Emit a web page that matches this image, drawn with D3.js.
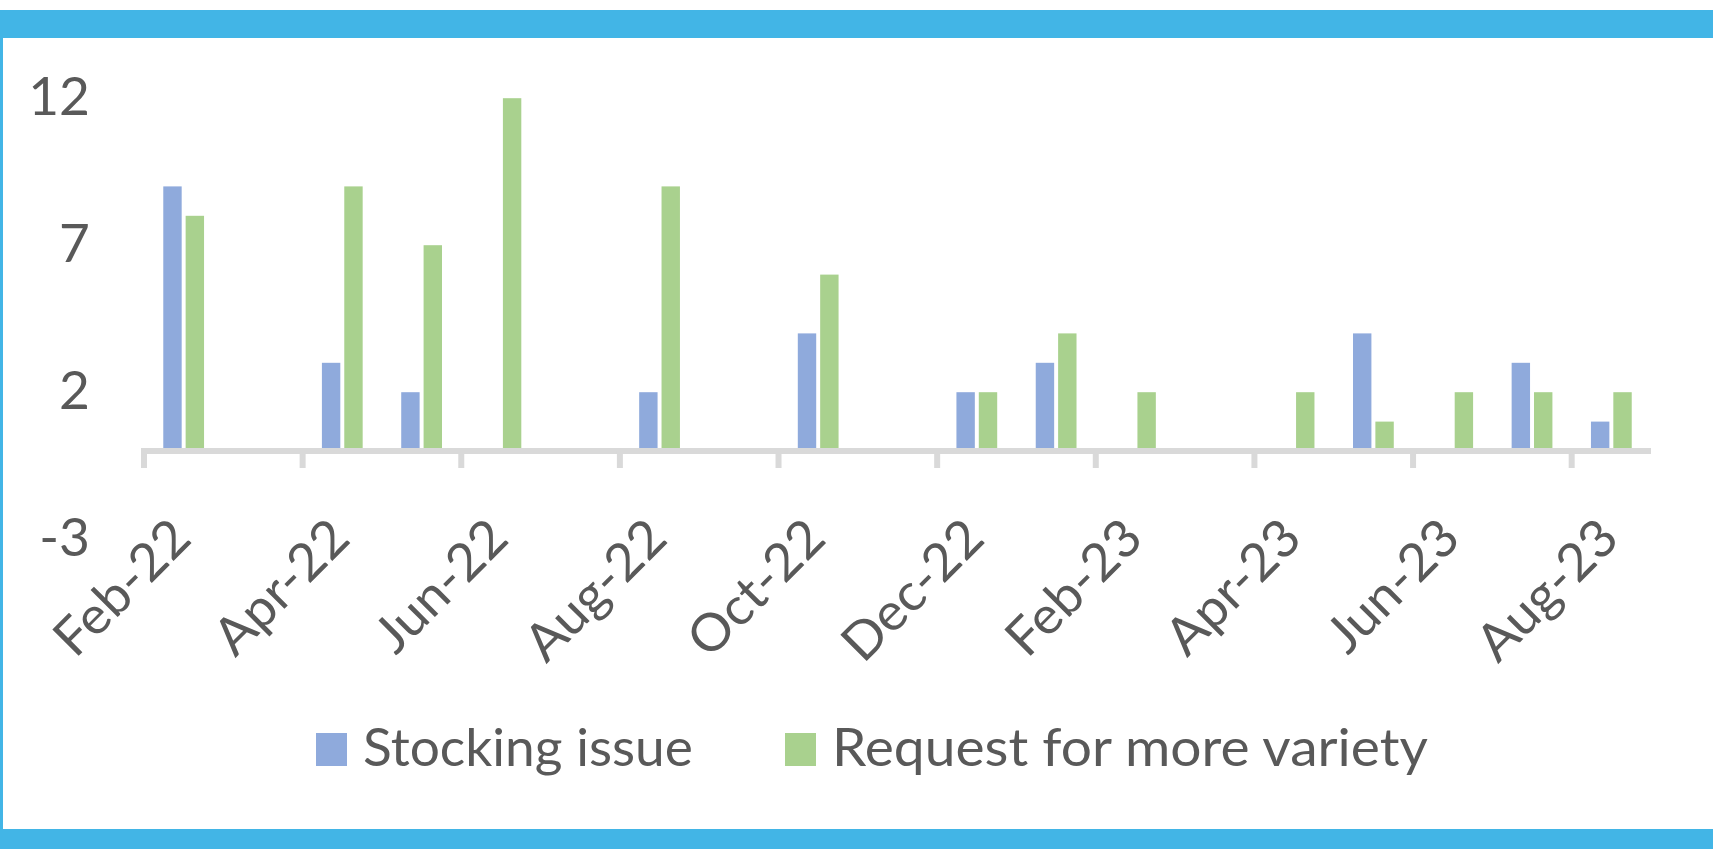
<!DOCTYPE html>
<html>
<head>
<meta charset="utf-8">
<script src="https://cdn.jsdelivr.net/npm/d3@7"></script>
<style>
  html, body { margin: 0; padding: 0; background: #ffffff; }
  svg { display: block; }
  text { font-family: Lato, "Open Sans", sans-serif; fill: #595959; }
</style>
</head>
<body>
<svg id="chart" width="1713" height="849"></svg>
<script>
// ---- data ----
const months = ["Feb-22","Mar-22","Apr-22","May-22","Jun-22","Jul-22","Aug-22","Sep-22","Oct-22","Nov-22","Dec-22",
                "Jan-23","Feb-23","Mar-23","Apr-23","May-23","Jun-23","Jul-23","Aug-23"];
const stockingIssue = [9,0,3,2,0,0,2,0,4,0,2,3,0,0,0,4,0,3,1];
const moreVariety   = [8,0,9,7,12,0,9,0,6,0,2,4,2,0,2,1,2,2,2];
const xTickLabels = ["Feb-22","Apr-22","Jun-22","Aug-22","Oct-22","Dec-22","Feb-23","Apr-23","Jun-23","Aug-23"];
const yTickValues = [-3, 2, 7, 12];
const seriesNames = ["Stocking issue", "Request for more variety"];
const seriesColors = ["#8faadc", "#a9d18e"];

// ---- layout ----
const W = 1713, H = 849;
const svg = d3.select("#chart");
const FONT = 52;

// frame
svg.append("rect").attr("x",0).attr("y",0).attr("width",W).attr("height",H).attr("fill","#ffffff");
svg.append("rect").attr("x",0).attr("y",10).attr("width",W).attr("height",28).attr("fill","#42b5e6");
svg.append("rect").attr("x",0).attr("y",10).attr("width",3).attr("height",H-10).attr("fill","#42b5e6");
svg.append("rect").attr("x",0).attr("y",829).attr("width",W).attr("height",20).attr("fill","#42b5e6");

// measure horizontal squeeze to approximate Calibri widths
const probe = svg.append("text").attr("font-size", FONT).text("Stocking issue");
const sx = 330 / probe.node().getComputedTextLength();
probe.remove();

const x = d3.scaleBand().domain(months).range([144, 1651]).padding(0);
const y = d3.scaleLinear().domain([-3, 12]).range([539.2, 98.2]);
const bw = x.bandwidth();
const barW = bw * 0.232;
const gap = bw * 0.05;

// bars
const series = [stockingIssue, moreVariety];
series.forEach((vals, si) => {
  svg.append("g").selectAll("rect")
    .data(months.map((m, i) => ({m, v: vals[i]})))
    .join("rect")
    .attr("x", d => x(d.m) + bw/2 + (si === 0 ? -gap/2 - barW : gap/2))
    .attr("width", barW)
    .attr("y", d => y(d.v))
    .attr("height", d => y(0) - y(d.v))
    .attr("fill", seriesColors[si]);
});

// x axis line and ticks
svg.append("line")
  .attr("x1", x(months[0]) - 3).attr("x2", x(months[months.length-1]) + bw)
  .attr("y1", y(0)).attr("y2", y(0))
  .attr("stroke", "#d9d9d9").attr("stroke-width", 6);
svg.append("g").selectAll("line")
  .data(xTickLabels)
  .join("line")
  .attr("x1", d => x(d)).attr("x2", d => x(d))
  .attr("y1", y(0)).attr("y2", y(0) + 17)
  .attr("stroke", "#d9d9d9").attr("stroke-width", 6);

// x labels (rotated)
svg.append("g").selectAll("text")
  .data(xTickLabels)
  .join("text")
  .attr("transform", d => `translate(${x(d) + bw/2 + 10},${541}) rotate(-45) scale(${sx},1)`)
  .attr("text-anchor", "end")
  .attr("font-size", FONT)
  .text(d => d);

// y axis labels
const yAxis = d3.axisLeft(y).tickValues(yTickValues).tickSize(0).tickPadding(0).tickFormat(d => String(d));
const yg = svg.append("g").attr("transform", "translate(90,0)").call(yAxis);
yg.select(".domain").remove();
yg.selectAll(".tick text")
  .attr("font-family", null)
  .attr("font-size", FONT)
  .attr("fill", "#595959")
  .attr("x", 0)
  .attr("dy", "0.32em")
  .attr("transform", `scale(${sx},1)`);

// legend
const legendWidths = [330, 596];
const leg = svg.append("g");
let lx = 316;
seriesNames.forEach((name, i) => {
  leg.append("rect").attr("x", lx).attr("y", 733).attr("width", 31).attr("height", 33).attr("fill", seriesColors[i]);
  const t = leg.append("text").attr("font-size", FONT).text(name);
  const raw = t.node().getComputedTextLength();
  const s = legendWidths[i] / raw;
  t.attr("transform", `translate(${lx + 47},766) scale(${s},1)`);
  lx = lx + 47 + legendWidths[i] + 92;
});
</script>
</body>
</html>
